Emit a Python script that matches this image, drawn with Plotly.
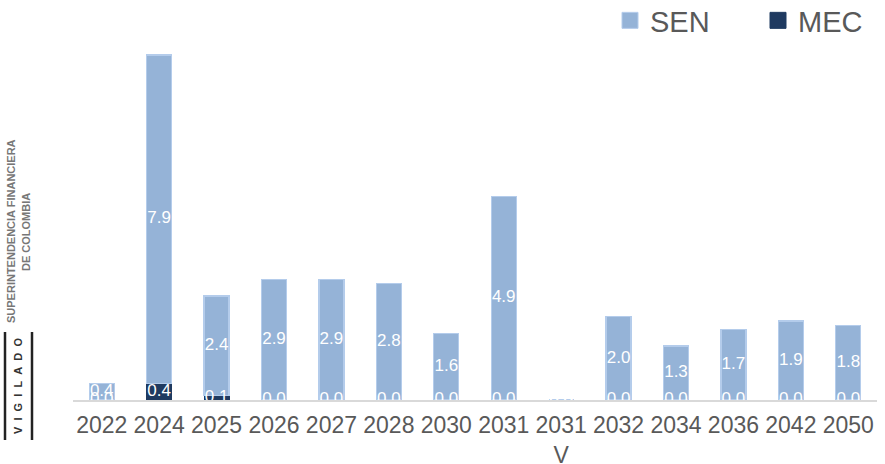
import plotly.graph_objects as go

categories = ["2022", "2024", "2025", "2026", "2027", "2028", "2030", "2031",
              "2031<br>V", "2032", "2034", "2036", "2042", "2050"]
mec = [0.0, 0.4, 0.1, 0.0, 0.0, 0.0, 0.0, 0.0, 0.0, 0.0, 0.0, 0.0, 0.0, 0.0]
sen = [0.4, 7.9, 2.4, 2.9, 2.9, 2.8, 1.6, 4.9, 0.0, 2.0, 1.3, 1.7, 1.9, 1.8]

SEN_C = "#95b3d7"
SEN_EDGE = "#b4cceb"
MEC_C = "#1f3a60"

W, H = 885, 464
ML, MR, MT, MB = 73, 8, 4, 64
YMAX = (H - MB - MT) / 41.57
FONT = "Liberation Sans, Arial"

fig = go.Figure()
fig.add_trace(go.Bar(name="MEC", x=categories, y=mec, showlegend=False,
                     marker=dict(color=MEC_C, line=dict(color=MEC_C, width=1))))
fig.add_trace(go.Bar(name="SEN", x=categories, y=sen, showlegend=False,
                     marker=dict(color=SEN_C, line=dict(color=SEN_EDGE, width=1.2))))

# data labels (white, centered in each segment, clipped by plot area)
fig.add_trace(go.Scatter(x=categories, y=[m + s / 2 for m, s in zip(mec, sen)],
                         text=[f"{v:.1f}" for v in sen], mode="text",
                         textfont=dict(color="white", size=17, family=FONT),
                         showlegend=False, hoverinfo="skip", cliponaxis=True))
fig.add_trace(go.Scatter(x=categories, y=[m / 2 for m in mec],
                         text=[f"{v:.1f}" for v in mec], mode="text",
                         textfont=dict(color="white", size=17, family=FONT),
                         showlegend=False, hoverinfo="skip", cliponaxis=True))

# legend entries (square swatches)
fig.add_trace(go.Scatter(name="SEN", x=[None], y=[None], mode="markers",
                         marker=dict(symbol="square", size=17, color=SEN_C, line=dict(color=SEN_EDGE, width=1))))
fig.add_trace(go.Scatter(name="MEC", x=[None], y=[None], mode="markers",
                         marker=dict(symbol="square", size=17, color=MEC_C, line=dict(color=MEC_C, width=1))))

def px_x(p):
    return (p - ML) / (W - ML - MR)

def px_y(p):
    return (H - MB - p) / (H - MB - MT)

sp = "&nbsp;&nbsp;"
annotations = [
    dict(text="<b>" + sp.join("VIGILADO") + "</b>", x=px_x(18), y=px_y(386), xref="paper", yref="paper",
         xanchor="center", yanchor="middle",
         textangle=-90, showarrow=False, font=dict(size=11, color="#333333", family=FONT)),
    dict(text="<b>SUPERINTENDENCIA FINANCIERA</b>", x=px_x(11), y=px_y(231), xref="paper", yref="paper",
         xanchor="center", yanchor="middle",
         textangle=-90, showarrow=False, font=dict(size=11, color="#777777", family=FONT)),
    dict(text="<b>DE COLOMBIA</b>", x=px_x(26), y=px_y(232), xref="paper", yref="paper",
         xanchor="center", yanchor="middle",
         textangle=-90, showarrow=False, font=dict(size=11, color="#777777", family=FONT)),
]
shapes = [
    dict(type="line", xref="paper", yref="paper", x0=px_x(5), x1=px_x(5), y0=px_y(332), y1=px_y(440),
         line=dict(color="#222222", width=2.5)),
    dict(type="line", xref="paper", yref="paper", x0=px_x(32), x1=px_x(32), y0=px_y(332), y1=px_y(440),
         line=dict(color="#222222", width=2.5)),
]

fig.update_layout(
    width=W, height=H,
    barmode="stack", bargap=0.565,
    plot_bgcolor="white", paper_bgcolor="white",
    margin=dict(l=ML, r=MR, t=MT, b=MB, pad=0, autoexpand=False),
    font=dict(family=FONT, color="#595959"),
    showlegend=True,
    legend=dict(orientation="h", x=px_x(610), xanchor="left", y=1.0 + 9 / 396, yanchor="top",
                font=dict(size=29, color="#595959"), traceorder="normal",
                entrywidth=103, itemsizing="trace", bgcolor="rgba(0,0,0,0)"),
    xaxis=dict(range=[-0.5, len(categories) - 0.5], showline=True, linecolor="#d9d9d9",
               linewidth=1.5, showgrid=False,
               tickfont=dict(size=23, color="#595959"), ticks="", ticklabelstandoff=4,
               fixedrange=True),
    yaxis=dict(range=[0, YMAX], visible=False, showgrid=False, zeroline=False, fixedrange=True),
    annotations=annotations,
    shapes=shapes,
)

fig.write_html("out.html", config={"displayModeBar": False},
               post_script="document.body.style.margin='0';")
